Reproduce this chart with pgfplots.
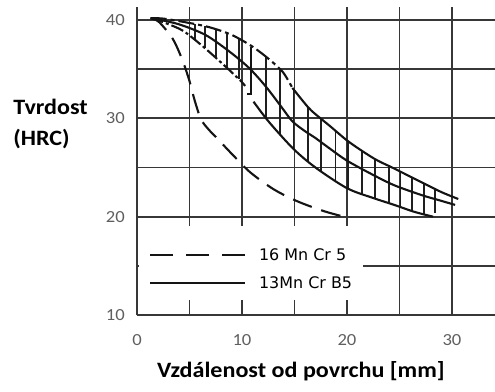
\documentclass[border=0pt]{standalone}
\usepackage{fontspec}
\setmainfont{Carlito}[FakeStretch=1.1]
\newfontfamily\legendfont{DejaVu Sans}
\usepackage{pgfplots}
\pgfplotsset{compat=1.18}
\definecolor{gridc}{RGB}{55,55,55}
\definecolor{tickc}{RGB}{95,95,95}
\tikzset{curve/.style={line width=2.1bp, black!92}}
\begin{document}
\begin{tikzpicture}
\begin{axis}[
  scale only axis, width=358bp, height=307.7bp,
  xmin=0, xmax=34.1, ymin=10, ymax=41.3,
  axis x line=bottom, axis y line=left,
  axis line style={line width=1.8bp, gridc, -},
  xtick={0,5,...,30}, xticklabels={0,,10,,20,,30},
  ytick={10,15,...,40}, yticklabels={10,,20,,30,,40},
  major tick length=0pt,
  grid=major, major grid style={line width=1.8bp, gridc},
  /pgf/number format/assume math mode=true,
  ticklabel style={font=\fontsize{17}{20}\selectfont, text=tickc},
  xticklabel style={inner sep=0pt, anchor=north, yshift=-19.5bp},
  yticklabel style={inner sep=0pt, anchor=east, xshift=-12bp},
  xlabel={Vzdálenost od povrchu [mm]},
  xlabel style={font=\bfseries\fontsize{22}{26}\selectfont, at={(axis description cs:0.458,-0.2015)}, anchor=base, inner sep=0pt},
  ylabel={Tvrdost\\(HRC)},
  ylabel style={rotate=-90, font=\bfseries\fontsize{22}{31}\selectfont, align=left, at={(axis description cs:-0.346,0.702)}, anchor=north west, inner sep=0pt},
  legend cell align=left,
  legend style={draw=none, fill=none, at={(axis cs:0.85,17.2)}, anchor=north west,
    font=\legendfont\fontsize{16}{19}\selectfont, row sep=11bp,
    /tikz/every odd column/.append style={column sep=11bp}},
  unbounded coords=jump,
]
\fill[white] (axis cs:0.18,11.5) rectangle (axis cs:21.5,19.1);

% hatching between the band limits
\addplot[line width=1.8bp, black!88, forget plot] coordinates {
(5.5,37.97) (5.5,39.58) (5.5,nan)
(6.5,37.11) (6.5,39.37) (6.5,nan)
(7.5,36.16) (7.5,39.05) (7.5,nan)
(8.6,35.10) (8.6,38.65) (8.6,nan)
(9.7,34.00) (9.7,38.08) (9.7,nan)
(12.3,30.02) (12.3,36.24) (12.3,nan)
(13.6,28.43) (13.6,35.00) (13.6,nan)
(14.9,26.90) (14.9,32.97) (14.9,nan)
(16.3,25.63) (16.3,31.17) (16.3,nan)
(17.5,24.65) (17.5,30.00) (17.5,nan)
(18.9,23.67) (18.9,28.76) (18.9,nan)
(20.1,22.86) (20.1,27.69) (20.1,nan)
(21.4,22.34) (21.4,26.75) (21.4,nan)
(22.7,21.83) (22.7,25.85) (22.7,nan)
(24.0,21.38) (24.0,25.16) (24.0,nan)
(25.1,20.98) (25.1,24.58) (25.1,nan)
(26.2,20.57) (26.2,23.98) (26.2,nan)
(27.3,20.25) (27.3,23.39) (27.3,nan)
(28.4,20.40) (28.4,22.82)};

\addplot[curve, smooth, dash pattern=on 20bp off 10bp,
  legend image code/.code={\draw[line width=2bp, dash pattern=on 23bp off 13bp] (0bp,0bp) -- (95bp,0bp);}]
  coordinates {(1.3,40.2) (2.1,39.8) (3.4,38.1) (4.3,36.0) (5.0,33.8) (5.5,31.8) (6.1,29.9) (6.8,28.9) (7.6,28.0)
  (9.2,26.2) (10.8,24.5) (13.0,22.8) (15.2,21.6) (17.7,20.6) (19.7,20.0)};
\addlegendentry{16 Mn Cr 5}
\addplot[curve, smooth,
  legend image code/.code={\draw[line width=2bp] (0bp,0bp) -- (95bp,0bp);}]
  coordinates {(1.3,40.2) (3.9,39.6) (6.5,38.5) (8.8,36.8) (10.7,35.1) (12.3,33.2) (13.8,31.1) (14.8,29.7)
  (16.0,28.7) (17.0,28.0) (18.4,26.9) (20.0,25.7) (22.4,24.3) (24.5,23.2) (27.1,22.2) (28.7,21.7) (30.3,21.2)};
\addlegendentry{13Mn Cr B5}

\addplot[curve, smooth, dash pattern=on 16bp off 4bp on 4bp off 4bp, forget plot] coordinates {
(1.3,40.2) (2.5,40.15) (4.5,39.8) (6.8,39.3) (9.0,38.5) (11.0,37.3) (12.6,36.0) (13.9,34.7) (14.8,33.1)};
\addplot[curve, smooth, forget plot] coordinates {
(14.8,33.1) (15.7,31.9) (16.6,30.8) (18.4,29.2) (20.2,27.6) (22.6,25.9) (24.5,24.9) (27.1,23.5) (29.0,22.5) (30.6,21.8)};
\addplot[curve, smooth, dash pattern=on 13bp off 3bp on 3bp off 3bp, forget plot] coordinates {
(1.3,40.2) (2.7,39.7) (4.4,38.9) (6.3,37.3) (8.2,35.5) (9.8,33.9) (10.3,33.3)};
\addplot[curve, smooth, forget plot] coordinates {
(11.1,31.7) (12.6,29.6) (14.9,26.9) (17.0,25.0) (20.0,22.9) (22.5,21.9) (24.5,21.2) (26.4,20.5) (28.2,20.0)};
\addplot[curve, forget plot] coordinates {(10.9,37.3) (10.9,32.5) (10.45,32.5)};
\end{axis}
\pgfresetboundingbox
\path[use as bounding box] (current axis.south west) ++(-137bp,-77bp) rectangle ++(495bp,392bp);
\end{tikzpicture}
\end{document}
